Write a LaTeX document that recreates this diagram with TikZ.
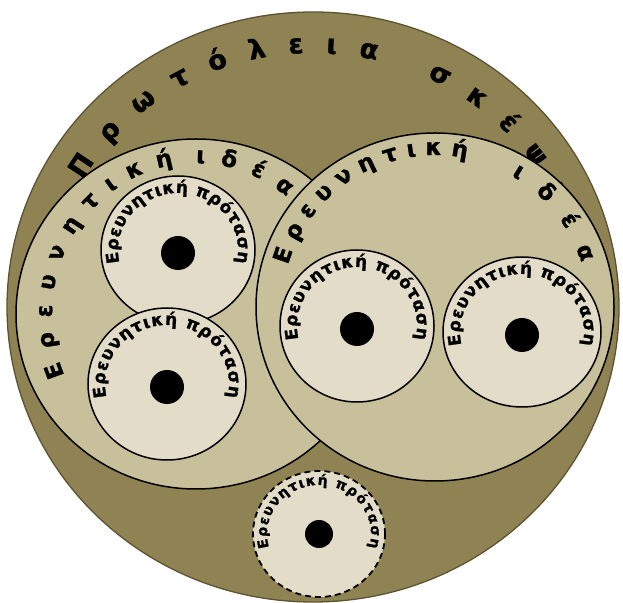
\documentclass[tikz,border=0pt]{standalone}
\usepackage{fontspec}
\setmainfont[BoldFeatures={FakeBold=1.2}]{DejaVu Sans}
\definecolor{draftolive}{RGB}{143,130,83}
\definecolor{draftedge}{RGB}{92,83,50}
\definecolor{ideakhaki}{RGB}{200,191,155}
\definecolor{proposalcream}{RGB}{226,220,201}
\usetikzlibrary{decorations.text, calc}

\begin{document}
\begin{tikzpicture}[x=1pt, y=1pt,
    draftdisc/.style={draw=draftedge, line width=1.3pt, fill=draftolive},
    ideadisc/.style={draw=black, line width=1.5pt, fill=ideakhaki},
    propdisc/.style={draw=black, line width=1.5pt, fill=proposalcream},
    dashdisc/.style={propdisc, line width=1.8pt, dash pattern=on 6pt off 4pt},
    drafttext/.style={decorate, decoration={text along path, text align=fit to path,
        text={|\bfseries\fontsize{27}{27}\selectfont|#1}}},
    ideatext/.style={decorate, decoration={text along path, text align=fit to path,
        text={|\bfseries\fontsize{23}{23}\selectfont|#1}}},
    proptext/.style={decorate, decoration={text along path, text align=fit to path,
        text={|\bfseries\fontsize{17}{17}\selectfont|#1}}},
    lowtext/.style={decorate, decoration={text along path, text align=fit to path,
        text={|\bfseries\fontsize{14}{14}\selectfont|#1}}}]
  \useasboundingbox (0,0) rectangle (623,602);

  \coordinate (draft) at (313,295);
  \coordinate (ideaL) at (196,288);
  \coordinate (ideaR) at (435,295);
  \coordinate (propB) at (319,68);

  \draw[draftdisc] (draft) ellipse [x radius=306, y radius=295];
  \path[drafttext=Πρωτόλεια σκέψη] ($(draft)+(150:266 and 254)$)
    arc [start angle=150, end angle=24, x radius=266, y radius=254];

  \draw[ideadisc] (ideaL) ellipse [x radius=180, y radius=175];
  \path[ideatext=Ερευνητική] ($(ideaL)+(204:144 and 151)$)
    arc [start angle=204, end angle=99, x radius=144, y radius=151];
  \path[ideatext=ιδέα] ($(ideaL)+(90:144 and 151)$)
    arc [start angle=90, end angle=51, x radius=144, y radius=151];

  \draw[ideadisc] (ideaR) ellipse [x radius=179, y radius=174];
  \path[ideatext=Ερευνητική] ($(ideaR)+(164:153 and 152)$)
    arc [start angle=164, end angle=78, x radius=153, y radius=152];
  \path[ideatext=ιδέα] ($(ideaR)+(60:153 and 152)$)
    arc [start angle=60, end angle=17, x radius=153, y radius=152];

  \foreach \p/\px/\py/\rx/\ry in {propTL/178/352/77/74, propBL/167/218/79/76,
      propRA/357/276/77/76, propRB/522/270/79/75} {
    \coordinate (\p) at (\px,\py);
    \draw[propdisc] (\p) ellipse [x radius=\rx, y radius=\ry];
    \path[proptext=Ερευνητική πρόταση] ($(\p)+(193:\rx-17 and \ry-17)$)
      arc [start angle=193, end angle=-13, x radius=\rx-17, y radius=\ry-17];
    \fill ($(\p)+(0,-3)$) circle [radius=17];
  }

  \draw[dashdisc] (propB) ellipse [x radius=66, y radius=63];
  \path[lowtext=Ερευνητική πρόταση] ($(propB)+(196:52 and 49)$)
    arc [start angle=196, end angle=-16, x radius=52, y radius=49];
  \fill (propB) circle [radius=14];
\end{tikzpicture}
\end{document}
